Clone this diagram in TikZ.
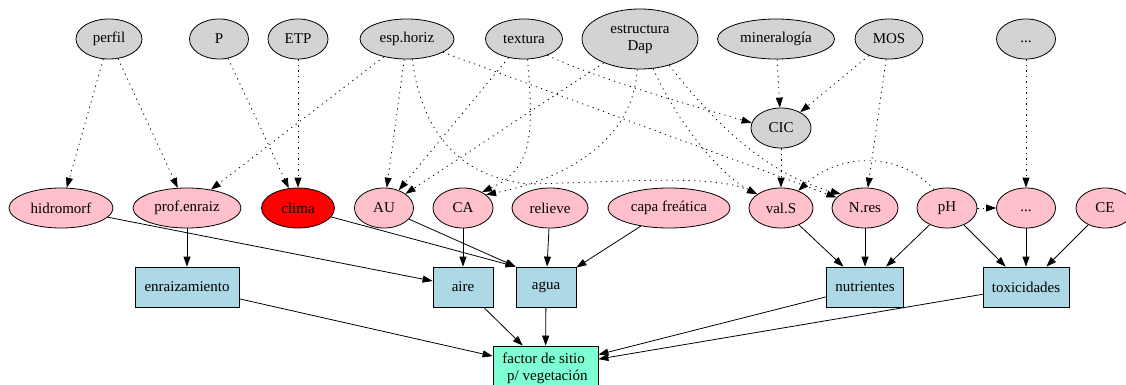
\documentclass[tikz,border=0pt]{standalone}
\usepackage{fontspec}
\setmainfont{Liberation Serif}
\usetikzlibrary{shapes.geometric,arrows.meta}

\definecolor{attrfill}{HTML}{D3D3D3}
\definecolor{propfill}{HTML}{FFC0CB}
\definecolor{groupfill}{HTML}{ADD8E6}
\definecolor{goalfill}{HTML}{7FFFD4}

\tikzset{
  base/.style={draw=black, line width=0.8pt, inner sep=0pt,
               font=\fontsize{15}{17}\selectfont, align=center},
  attr/.style={base, ellipse, fill=attrfill, minimum height=40pt},
  prop/.style={base, ellipse, fill=propfill, minimum height=40pt},
  group/.style={base, rectangle, fill=groupfill, minimum height=40pt},
  goal/.style={base, rectangle, fill=goalfill},
  tip/.style={-{Triangle[length=10pt,width=7pt]}},
  dep/.style={tip, line width=0.8pt, dash pattern=on 1.2pt off 4.3pt},
  link/.style={tip, line width=0.8pt},
}

\begin{document}
\begin{tikzpicture}[x=1pt,y=-1pt]
\useasboundingbox (0,0) rectangle (1126,385);

% soil attributes
\node[attr, minimum width=66pt]  (perfil)     at (109,39) {perfil};
\node[attr, minimum width=59pt]  (P)          at (219,39) {P};
\node[attr, minimum width=60pt]  (ETP)        at (298,39) {ETP};
\node[attr, minimum width=94pt]  (esphoriz)   at (407,39) {esp.horiz};
\node[attr, minimum width=77pt]  (textura)    at (524,39) {textura};
\node[attr, minimum width=116pt, minimum height=60pt] (estructura) at (640,39) {estructura\\Dap};
\node[attr, minimum width=117pt] (mineral)    at (776,39) {mineralogía};
\node[attr, minimum width=68pt]  (MOS)        at (889,39) {MOS};
\node[attr, minimum width=59pt]  (dotsA)      at (1026,39) {\vphantom{Ag}...};
\node[attr, minimum width=60pt]  (CIC)        at (781,128) {CIC};

% derived properties
\node[prop, minimum width=104pt] (hidromorf)  at (61,208) {hidromorf};
\node[prop, minimum width=108pt] (profenraiz) at (187,208) {prof.enraiz};
\node[prop, minimum width=73pt, fill=red] (clima) at (298,208) {clima};
\node[prop, minimum width=59pt]  (AU)         at (384,208) {AU};
\node[prop, minimum width=60pt]  (CA)         at (463,208) {CA};
\node[prop, minimum width=76pt]  (relieve)    at (550,208) {relieve};
\node[prop, minimum width=122pt] (capa)       at (669,208) {capa freática};
\node[prop, minimum width=64pt]  (valS)       at (781,208) {val.S};
\node[prop, minimum width=66pt]  (Nres)       at (865,208) {N.res};
\node[prop, minimum width=60pt]  (pH)         at (947,208) {pH};
\node[prop, minimum width=59pt]  (dotsB)      at (1026,208) {\vphantom{Ag}...};
\node[prop, minimum width=58pt]  (CE)         at (1105,208) {CE};

% site factors
\node[group, minimum width=104pt] (enraiz) at (187,287) {enraizamiento};
\node[group, minimum width=60pt]  (aire)   at (463,287) {aire};
\node[group, minimum width=60pt]  (agua)   at (546,287) {agua};
\node[group, minimum width=77pt]  (nutri)  at (865,287) {nutrientes};
\node[group, minimum width=86pt]  (tox)    at (1026,287) {toxicidades};
\node[goal, minimum width=105pt, minimum height=44pt] (factor) at (545.5,368)
  {factor de sitio\makebox[3.75pt]{}\\\makebox[3.75pt]{}p/ vegetación};

% dependencies between attributes and properties
\draw[dep] (perfil) -- (hidromorf);
\draw[dep] (perfil) -- (profenraiz);
\draw[dep] (P) -- (clima);
\draw[dep] (ETP) -- (clima);
\draw[dep] (esphoriz) -- (profenraiz);
\draw[dep] (esphoriz) -- (AU);
\draw[dep] (esphoriz.285) .. controls (420,125) and (455,178) .. (530,184)
           .. controls (620,182) and (715,174) .. (valS.150);
\draw[dep] (esphoriz) -- (Nres);
\draw[dep] (textura) -- (AU);
\draw[dep] (textura.280) .. controls (533,130) and (535,168) .. (CA.40);
\draw[dep] (textura.325) .. controls (600,80) and (700,108) .. (CIC.170);
\draw[dep] (estructura) -- (AU);
\draw[dep] (estructura.265) .. controls (632,150) and (550,182) .. (CA.30);
\draw[dep] (estructura.294) .. controls (672,112) and (715,172) .. (valS.150);
\draw[dep] (estructura.318) .. controls (720,130) and (770,175) .. (Nres.150);
\draw[dep] (mineral) -- (CIC);
\draw[dep] (MOS) -- (CIC);
\draw[dep] (MOS) -- (Nres);
\draw[dep] (CIC) -- (valS);
\draw[dep] (pH.125) .. controls (900,152) and (840,152) .. (valS.45);
\draw[dep] (pH) -- (dotsB);
\draw[dep] (dotsA) -- (dotsB);

% properties into site factors
\draw[link] (hidromorf) -- (aire);
\draw[link] (profenraiz) -- (enraiz);
\draw[link] (clima) -- (agua.north west);
\draw[link] (AU) -- (agua.north west);
\draw[link] (CA) -- (aire);
\draw[link] (relieve) -- (agua);
\draw[link] (capa) -- (agua);
\draw[link] (valS) -- (nutri);
\draw[link] (Nres) -- (nutri);
\draw[link] (pH) -- (nutri);
\draw[link] (pH) -- (tox);
\draw[link] (dotsB) -- (tox);
\draw[link] (CE) -- (tox);

% site factors into the overall factor
\draw[link] (enraiz) -- (factor);
\draw[link] (aire) -- (factor);
\draw[link] (agua) -- (factor);
\draw[link] (nutri) -- (factor);
\draw[link] (tox) -- (factor);
\end{tikzpicture}
\end{document}
